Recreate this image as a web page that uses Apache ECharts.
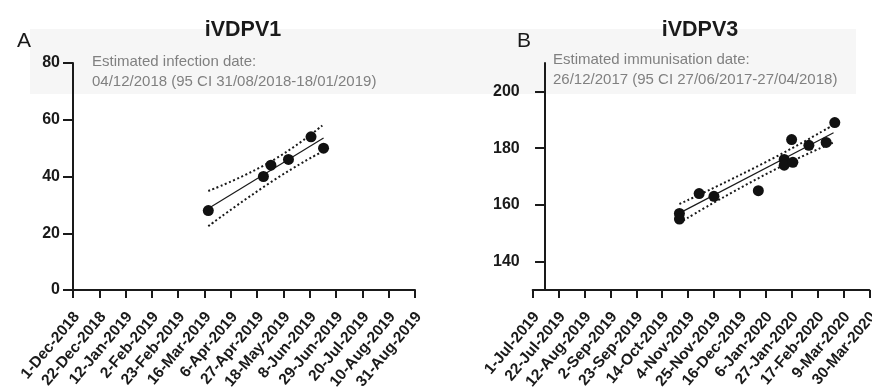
<!DOCTYPE html>
<html><head><meta charset="utf-8">
<script src="https://cdn.jsdelivr.net/npm/echarts@6/dist/echarts.min.js"></script>
<style>html,body{margin:0;padding:0;background:#fff}#c{width:872px;height:388px}</style>
</head><body><div id="c"></div>
<script>
// ---------- data ----------
const titles = ['iVDPV1', 'iVDPV3'];
const panelLetters = ['A', 'B'];
const notes = [
  'Estimated infection date:\n04/12/2018 (95 CI 31/08/2018-18/01/2019)',
  'Estimated immunisation date:\n26/12/2017 (95 CI 27/06/2017-27/04/2018)'
];
const tickStepDays = 21;
const ticksA = ['1-Dec-2018','22-Dec-2018','12-Jan-2019','2-Feb-2019','23-Feb-2019','16-Mar-2019','6-Apr-2019','27-Apr-2019','18-May-2019','8-Jun-2019','29-Jun-2019','20-Jul-2019','10-Aug-2019','31-Aug-2019'];
const ticksB = ['1-Jul-2019','22-Jul-2019','12-Aug-2019','2-Sep-2019','23-Sep-2019','14-Oct-2019','4-Nov-2019','25-Nov-2019','16-Dec-2019','6-Jan-2020','27-Jan-2020','17-Feb-2020','9-Mar-2020','30-Mar-2020'];
const startA = '2018-12-01';
const startB = '2019-07-01';
const yCrossB = '2019-07-11';      // where the y axis of panel B crosses the date axis
const yTicksA = [0, 20, 40, 60, 80];
const yTicksB = [140, 160, 180, 200];
const yRangeB = [130, 210];

const datesA  = ['2019-03-19','2019-05-02','2019-05-08','2019-05-22','2019-06-09','2019-06-19'];
const valuesA = [28, 40, 44, 46, 54, 50];
const fitA    = [['2019-03-19', 28.7], ['2019-06-19', 53.6]];
const upperA  = [['2019-03-19', 34.9], ['2019-05-08', 45.3], ['2019-06-18', 58.0]];
const lowerA  = [['2019-03-19', 22.5], ['2019-05-10', 38.6], ['2019-06-18', 48.8]];

const datesB  = ['2019-10-28','2019-10-28','2019-11-13','2019-11-25','2019-12-31','2020-01-21','2020-01-21','2020-01-27','2020-01-28','2020-02-10','2020-02-24','2020-03-02'];
const valuesB = [157, 155, 164, 163, 165, 176, 174, 183, 175, 181, 182, 189];
const fitB    = [['2019-10-28', 157.1], ['2020-03-01', 185.4]];
const upperB  = [['2019-10-28', 160.3], ['2020-01-07', 175.3], ['2020-03-01', 188.2]];
const lowerB  = [['2019-10-28', 153.7], ['2020-01-07', 171.0], ['2020-03-01', 182.0]];

// ---------- helpers ----------
const DAY = 86400000;
const dayOf = (d, start) => (Date.parse(d) - Date.parse(start)) / DAY;
const pts = (dates, vals, start) => dates.map((d, i) => [dayOf(d, start), vals[i]]);
const pairPts = (arr, start) => arr.map(p => [dayOf(p[0], start), p[1]]);

const FONT = 'Arial, "Liberation Sans", Helvetica, sans-serif';
const INK = '#1a1a1a';
const spanA = (ticksA.length - 1) * tickStepDays;
const spanB = (ticksB.length - 1) * tickStepDays;
const crossB = dayOf(yCrossB, startB);

function xAxisFor(grid, ticks, span) {
  return {
    type: 'value', gridIndex: grid, min: 0, max: span, interval: tickStepDays,
    splitLine: { show: false },
    axisLine: { show: true, onZero: false, lineStyle: { color: INK, width: 2 } },
    axisTick: { show: true, length: 8, lineStyle: { color: INK, width: 2 } },
    axisLabel: {
      rotate: 50, margin: 21, verticalAlign: 'top', lineHeight: 10, color: INK, fontFamily: FONT, fontWeight: 'bold', fontSize: 15.5,
      formatter: v => ticks[Math.round(v / tickStepDays)] || ''
    }
  };
}
const yAxisStyle = {
  splitLine: { show: false },
  axisTick: { show: true, length: 10, lineStyle: { color: INK, width: 2 } },
  axisLabel: { margin: 13, color: INK, fontFamily: FONT, fontWeight: 'bold', fontSize: 16 }
};

function panelSeries(xi, yi, scatter, fit, upper, lower) {
  return [
    { type: 'line', xAxisIndex: xi, yAxisIndex: yi, data: upper, smooth: true, showSymbol: false, silent: true,
      lineStyle: { color: INK, width: 2, type: [2, 2.5] }, z: 2 },
    { type: 'line', xAxisIndex: xi, yAxisIndex: yi, data: lower, smooth: true, showSymbol: false, silent: true,
      lineStyle: { color: INK, width: 2, type: [2, 2.5] }, z: 2 },
    { type: 'line', xAxisIndex: xi, yAxisIndex: yi, data: fit, showSymbol: false, silent: true,
      lineStyle: { color: INK, width: 1.2 }, z: 3 },
    { type: 'scatter', xAxisIndex: xi, yAxisIndex: yi, data: scatter, symbolSize: 11,
      itemStyle: { color: '#111', opacity: 1 }, z: 4 }
  ];
}

const option = {
  animation: false,
  backgroundColor: '#fff',
  title: [
    { text: titles[0], left: 238, top: 14, textAlign: 'center',
      textStyle: { fontFamily: FONT, fontWeight: 'bold', fontSize: 21.5, color: INK } },
    { text: titles[1], left: 695, top: 14, textAlign: 'center',
      textStyle: { fontFamily: FONT, fontWeight: 'bold', fontSize: 21.5, color: INK } },
    { text: panelLetters[0], left: 12, top: 26,
      textStyle: { fontFamily: FONT, fontWeight: 'normal', fontSize: 21, color: INK } },
    { text: panelLetters[1], left: 512, top: 26,
      textStyle: { fontFamily: FONT, fontWeight: 'normal', fontSize: 21, color: INK } },
    { text: notes[0], left: 87, top: 47,
      textStyle: { fontFamily: FONT, fontWeight: 'normal', fontSize: 15, lineHeight: 20, color: '#808080' } },
    { text: notes[1], left: 548, top: 45,
      textStyle: { fontFamily: FONT, fontWeight: 'normal', fontSize: 15, lineHeight: 20, color: '#808080' } }
  ],
  graphic: [
    { type: 'rect', z: -100, silent: true, shape: { x: 30, y: 29, width: 826, height: 65 },
      style: { fill: '#f6f6f6' } }
  ],
  grid: [
    { left: 73, top: 63, width: 342, height: 227, containLabel: false, outerBoundsMode: 'none' },
    { left: 532.7, top: 63, width: 336.6, height: 227, containLabel: false, outerBoundsMode: 'none' }
  ],
  xAxis: [
    xAxisFor(0, ticksA, spanA),
    xAxisFor(1, ticksB, spanB),
    { type: 'value', gridIndex: 1, min: -crossB, max: spanB - crossB, show: false }
  ],
  yAxis: [
    Object.assign({ type: 'value', gridIndex: 0, min: yTicksA[0], max: yTicksA[yTicksA.length - 1], interval: 20,
      axisLine: { show: true, onZero: true, onZeroAxisIndex: 0, lineStyle: { color: INK, width: 2 } } }, yAxisStyle),
    Object.assign({ type: 'value', gridIndex: 1, min: yRangeB[0], max: yRangeB[1],
      axisLine: { show: true, onZero: true, onZeroAxisIndex: 2, lineStyle: { color: INK, width: 2 } } }, yAxisStyle,
      { axisTick: Object.assign({}, yAxisStyle.axisTick, { customValues: yTicksB }),
        axisLabel: Object.assign({}, yAxisStyle.axisLabel, { customValues: yTicksB }) })
  ],
  series: [].concat(
    panelSeries(0, 0, pts(datesA, valuesA, startA), pairPts(fitA, startA), pairPts(upperA, startA), pairPts(lowerA, startA)),
    panelSeries(1, 1, pts(datesB, valuesB, startB), pairPts(fitB, startB), pairPts(upperB, startB), pairPts(lowerB, startB))
  )
};
const chart = echarts.init(document.getElementById('c'), null, { renderer: 'canvas' });
chart.setOption(option);
</script>
</body></html>
